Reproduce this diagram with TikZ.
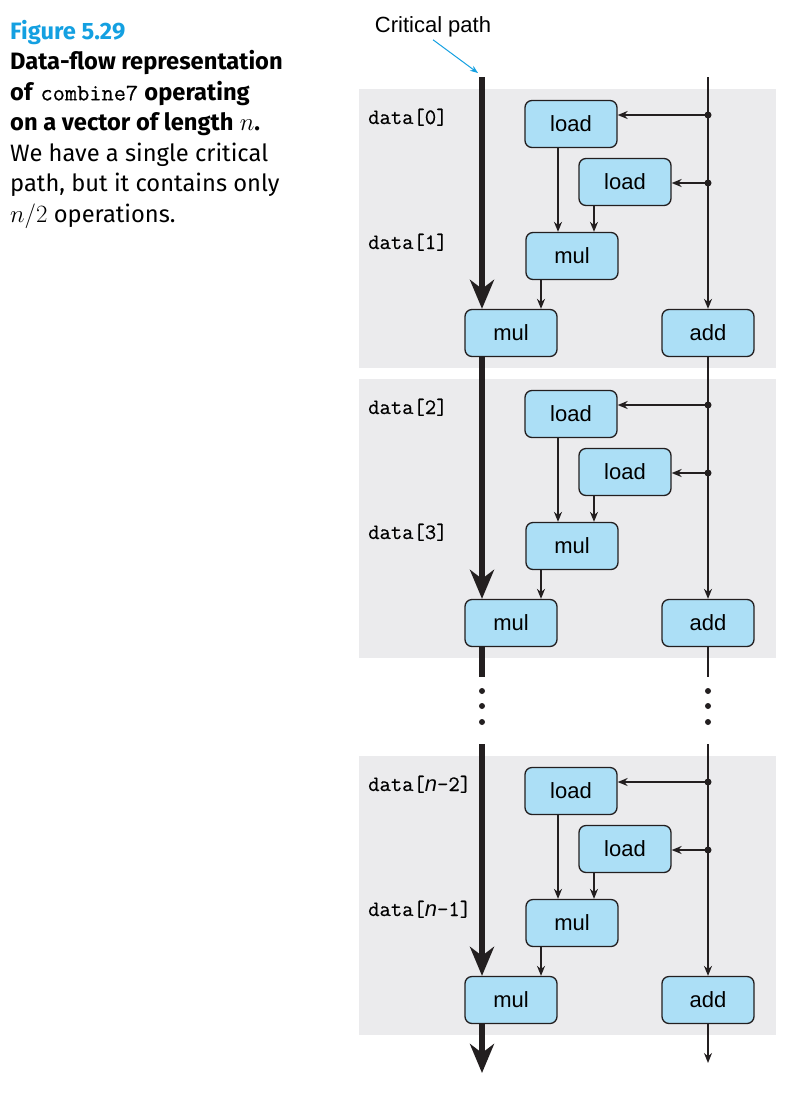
\documentclass[tikz,border=0pt]{standalone}
\usepackage{fontspec}
\setmainfont{Fira Sans}
\setsansfont{Liberation Sans}
\setmonofont[FakeBold=0.5]{Latin Modern Mono}
\usetikzlibrary{arrows.meta}
\definecolor{capblue}{RGB}{20,160,225}
\definecolor{opfill}{RGB}{172,223,246}
\definecolor{opline}{RGB}{35,31,32}
\definecolor{blockgray}{RGB}{235,235,237}
\newcommand{\nn}{{\sffamily\itshape n}}

\begin{document}
\begin{tikzpicture}[x=1pt,y=-1pt,
    op/.style={draw=opline,line width=1.3pt,fill=opfill,rounded corners=7pt,minimum width=92pt,minimum height=47pt,inner sep=0pt,font=\sffamily\fontsize{22}{26}\selectfont},
    tag/.style={anchor=base west,inner sep=0pt,font=\ttfamily\fontsize{22}{26}\selectfont},
    flow/.style={draw=opline,line width=1.5pt,-{Stealth[length=10pt,width=8pt]}},
    crit/.style={draw=opline,line width=5.5pt,-{Stealth[length=29pt,width=24pt,inset=9pt]}},
    tap/.style={fill=opline,circle,inner sep=0pt,minimum size=7pt}]
  \useasboundingbox (0,0) rectangle (810,1096);

  % caption
  \node[anchor=north west,align=left,inner sep=0pt,font=\fontsize{23.7}{30.5}\selectfont] (cap) at (10,20)
    {{\color{capblue}\bfseries Figure 5.29}\\
     \textbf{Data-flow representation}\\
     \textbf{of} \texttt{combine7} \textbf{operating}\\
     \textbf{on a vector of length} $n$\textbf{.}\\
     We have a single critical\\
     path, but it contains only\\
     $n/2$ operations.};

  % three unrolled iterations
  \foreach \b/\off/\ia/\ib in {1/0/0/1,2/290/2/3,3/667/\nn-2/\nn-1} {
    \fill[blockgray] (359,89+\off) rectangle (776,368+\off);
    \node[tag] (lblA\b) at (368,124+\off) {data[\ia]};
    \node[tag] (lblB\b) at (368,249+\off) {data[\ib]};
    \node[op] (ldA\b) at (571,124+\off) {load};
    \node[op] (ldB\b) at (625,182+\off) {load};
    \node[op] (mulA\b) at (572,256+\off) {mul};
    \node[op] (mulB\b) at (511,333+\off) {mul};
    \node[op] (add\b) at (708,333+\off) {add};
    \node[tap] (tapA\b) at (708,115+\off) {};
    \node[tap] (tapB\b) at (708,183+\off) {};
    \draw[flow] (tapA\b.center) -- (ldA\b.east |- tapA\b);
    \draw[flow] (tapB\b.center) -- (ldB\b.east |- tapB\b);
    \draw[flow] ([xshift=-13pt]ldA\b.south) -- ([xshift=-13pt]ldA\b.south |- mulA\b.north);
    \draw[flow] ([xshift=-31pt]ldB\b.south) -- ([xshift=-31pt]ldB\b.south |- mulA\b.north);
    \draw[flow] ([xshift=-31pt]mulA\b.south) -- ([xshift=-31pt]mulA\b.south |- mulB\b.north);
  }

  % critical path
  \node[anchor=base,inner sep=0pt,font=\sffamily\fontsize{22}{26}\selectfont] (critlbl) at (433,32) {Critical path};
  \coordinate (critend) at (478,73);
  \draw[capblue,line width=1pt,-{Stealth[length=8pt,width=6pt]}] ([yshift=-3pt]critlbl.south) -- (critend);
  \coordinate (ctop) at (482,77);
  \coordinate (cgapA) at (482,677);
  \coordinate (cgapB) at (482,744);
  \coordinate (cend) at (482,1073);
  \draw[crit] (ctop) -- (ctop |- mulB1.north);
  \draw[crit] (ctop |- mulB1.south) -- (ctop |- mulB2.north);
  \draw[draw=opline,line width=5.5pt] (ctop |- mulB2.south) -- (cgapA);
  \draw[crit] (cgapB) -- (ctop |- mulB3.north);
  \draw[crit] (ctop |- mulB3.south) -- (cend);

  % index chain
  \coordinate (rtop) at (708,77);
  \coordinate (rgapA) at (708,677);
  \coordinate (rgapB) at (708,744);
  \coordinate (rend) at (708,1063);
  \draw[flow] (rtop) -- (add1.north);
  \draw[flow] (add1.south) -- (add2.north);
  \draw[draw=opline,line width=1.5pt] (add2.south) -- (rgapA);
  \draw[flow] (rgapB) -- (add3.north);
  \draw[flow] (add3.south) -- (rend);

  % elided iterations
  \foreach \y in {691,706,722} {
    \fill[opline] (482,\y) circle (3pt);
    \fill[opline] (708,\y) circle (3pt);
  }
\end{tikzpicture}
\end{document}
